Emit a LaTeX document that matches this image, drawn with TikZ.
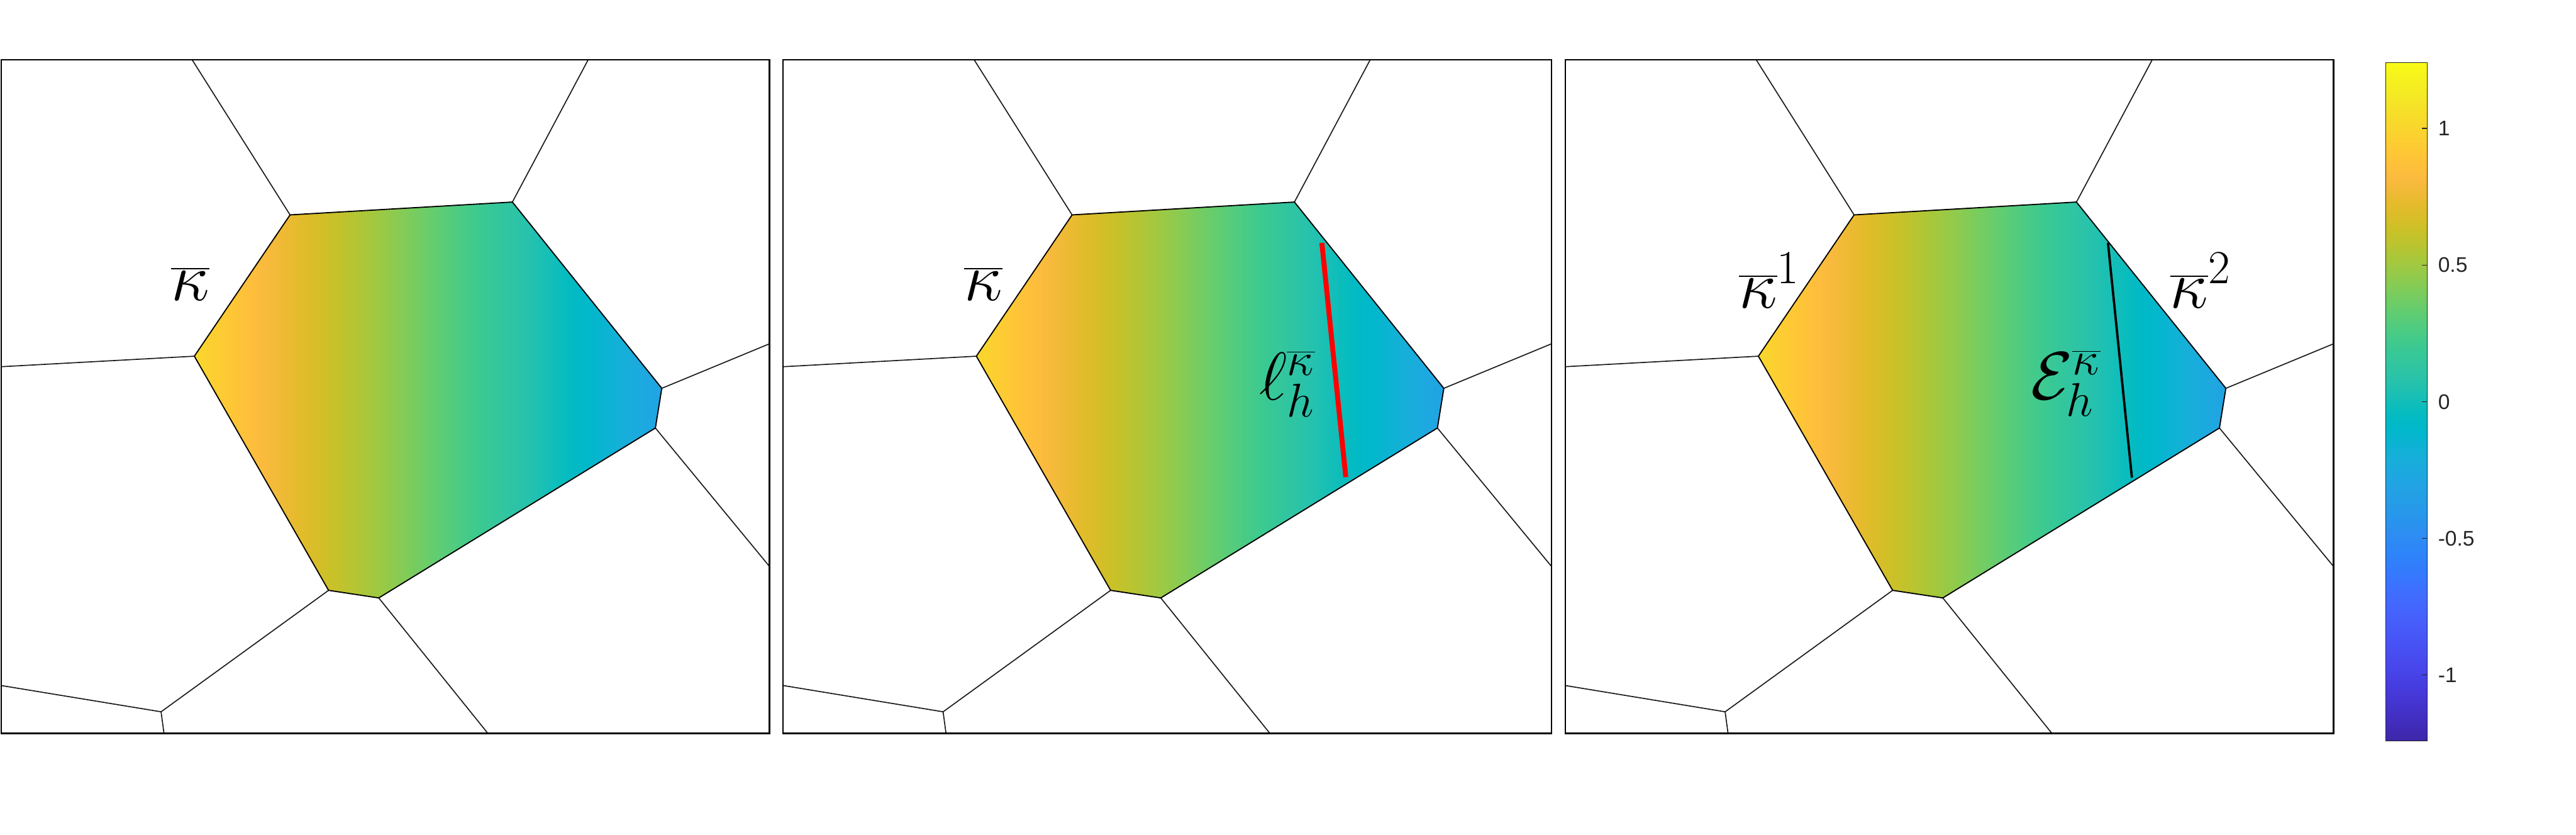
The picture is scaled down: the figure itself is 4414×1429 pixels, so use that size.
\RequirePackage{fix-cm}
\documentclass[tikz,border=0pt]{standalone}
\usepackage{fontspec}
\newfontfamily\tickfont{Liberation Sans}
% MATLAB parula(64)
\definecolor{pa1}{rgb}{0.2422,0.1504,0.6603}
\definecolor{pa2}{rgb}{0.2504,0.1650,0.7076}
\definecolor{pa3}{rgb}{0.2578,0.1818,0.7511}
\definecolor{pa4}{rgb}{0.2647,0.1978,0.7952}
\definecolor{pa5}{rgb}{0.2706,0.2147,0.8364}
\definecolor{pa6}{rgb}{0.2751,0.2342,0.8710}
\definecolor{pa7}{rgb}{0.2783,0.2559,0.8991}
\definecolor{pa8}{rgb}{0.2803,0.2782,0.9221}
\definecolor{pa9}{rgb}{0.2813,0.3006,0.9414}
\definecolor{pa10}{rgb}{0.2810,0.3228,0.9579}
\definecolor{pa11}{rgb}{0.2795,0.3447,0.9717}
\definecolor{pa12}{rgb}{0.2760,0.3667,0.9829}
\definecolor{pa13}{rgb}{0.2699,0.3892,0.9906}
\definecolor{pa14}{rgb}{0.2602,0.4123,0.9952}
\definecolor{pa15}{rgb}{0.2440,0.4358,0.9988}
\definecolor{pa16}{rgb}{0.2206,0.4603,0.9973}
\definecolor{pa17}{rgb}{0.1963,0.4847,0.9892}
\definecolor{pa18}{rgb}{0.1834,0.5074,0.9798}
\definecolor{pa19}{rgb}{0.1786,0.5289,0.9682}
\definecolor{pa20}{rgb}{0.1764,0.5499,0.9520}
\definecolor{pa21}{rgb}{0.1687,0.5703,0.9359}
\definecolor{pa22}{rgb}{0.1540,0.5902,0.9218}
\definecolor{pa23}{rgb}{0.1460,0.6091,0.9079}
\definecolor{pa24}{rgb}{0.1380,0.6276,0.8973}
\definecolor{pa25}{rgb}{0.1248,0.6459,0.8883}
\definecolor{pa26}{rgb}{0.1113,0.6635,0.8763}
\definecolor{pa27}{rgb}{0.0952,0.6798,0.8598}
\definecolor{pa28}{rgb}{0.0689,0.6948,0.8394}
\definecolor{pa29}{rgb}{0.0297,0.7082,0.8163}
\definecolor{pa30}{rgb}{0.0036,0.7203,0.7917}
\definecolor{pa31}{rgb}{0.0067,0.7312,0.7660}
\definecolor{pa32}{rgb}{0.0433,0.7411,0.7394}
\definecolor{pa33}{rgb}{0.0964,0.7500,0.7120}
\definecolor{pa34}{rgb}{0.1408,0.7584,0.6842}
\definecolor{pa35}{rgb}{0.1717,0.7670,0.6554}
\definecolor{pa36}{rgb}{0.1938,0.7758,0.6251}
\definecolor{pa37}{rgb}{0.2161,0.7843,0.5923}
\definecolor{pa38}{rgb}{0.2470,0.7918,0.5567}
\definecolor{pa39}{rgb}{0.2906,0.7973,0.5188}
\definecolor{pa40}{rgb}{0.3406,0.8008,0.4789}
\definecolor{pa41}{rgb}{0.3909,0.8029,0.4354}
\definecolor{pa42}{rgb}{0.4456,0.8024,0.3909}
\definecolor{pa43}{rgb}{0.5044,0.7993,0.3480}
\definecolor{pa44}{rgb}{0.5616,0.7942,0.3045}
\definecolor{pa45}{rgb}{0.6174,0.7876,0.2612}
\definecolor{pa46}{rgb}{0.6720,0.7793,0.2227}
\definecolor{pa47}{rgb}{0.7242,0.7698,0.1910}
\definecolor{pa48}{rgb}{0.7738,0.7598,0.1646}
\definecolor{pa49}{rgb}{0.8203,0.7498,0.1535}
\definecolor{pa50}{rgb}{0.8634,0.7406,0.1596}
\definecolor{pa51}{rgb}{0.9035,0.7330,0.1774}
\definecolor{pa52}{rgb}{0.9393,0.7288,0.2100}
\definecolor{pa53}{rgb}{0.9728,0.7298,0.2394}
\definecolor{pa54}{rgb}{0.9956,0.7434,0.2371}
\definecolor{pa55}{rgb}{0.9970,0.7659,0.2199}
\definecolor{pa56}{rgb}{0.9952,0.7893,0.2028}
\definecolor{pa57}{rgb}{0.9892,0.8136,0.1885}
\definecolor{pa58}{rgb}{0.9786,0.8386,0.1766}
\definecolor{pa59}{rgb}{0.9676,0.8639,0.1643}
\definecolor{pa60}{rgb}{0.9610,0.8890,0.1537}
\definecolor{pa61}{rgb}{0.9597,0.9135,0.1423}
\definecolor{pa62}{rgb}{0.9628,0.9373,0.1265}
\definecolor{pa63}{rgb}{0.9691,0.9606,0.1064}
\definecolor{pa64}{rgb}{0.9769,0.9839,0.0805}
% vertical shading for the colour bar (bottom = pa1, top = pa64)
\def\pspecV{color(0bp)=(pa1)}
\foreach \k in {1,...,64}{%
  \pgfmathsetmacro\pos{25+50*(\k-1)/63}%
  \xdef\pspecV{\pspecV; color(\pos bp)=(pa\k)}}
\xdef\pspecV{\pspecV; color(100bp)=(pa64)}
\edef\tmpdecl{\noexpand\pgfdeclareverticalshading{parulaV}{100bp}{\pspecV}}
\tmpdecl
% horizontal shading for the cell (left f=0.908, right f=0.375)
\def\pspecH{color(0bp)=(pa60)}
\foreach \k in {60,59,...,23}{%
  \pgfmathsetmacro\pos{25+93.81*(0.908-(\k-1)/63)}%
  \xdef\pspecH{\pspecH; color(\pos bp)=(pa\k)}}
\xdef\pspecH{\pspecH; color(100bp)=(pa23)}
\edef\tmpdecl{\noexpand\pgfdeclarehorizontalshading{parulaH}{100bp}{\pspecH}}
\tmpdecl
\begin{document}
\begin{tikzpicture}[x=0.1mm,y=-0.1mm,
  cell/.style={draw=black!90, line width=0.18mm},
  poly/.style={draw=black, line width=0.2mm, line join=round},
  panelframe/.style={draw=black, line width=0.24mm},
  lab/.style={inner sep=0pt, font=\fontsize{33}{40}\selectfont},
  cbframe/.style={draw=black!85, line width=0.15mm},
  cbtick/.style={draw=black!85, line width=0.15mm},
  ticklab/.style={inner sep=0pt, anchor=west, text=black!85, font=\tickfont\fontsize{10.3}{12}\selectfont},
  redcut/.style={draw=red, line width=0.85mm},
  blackcut/.style={draw=black, line width=0.4mm},
  ]
\useasboundingbox (0,0) rectangle (4414,1429);

\foreach \dx in {0,1340,2680}{
  \begin{scope}[shift={(\dx,0)}]
    \coordinate (v1) at (497,368);
    \coordinate (v2) at (878,346);
    \coordinate (v3) at (1134,665);
    \coordinate (v4) at (1123,733);
    \coordinate (v5) at (649,1024);
    \coordinate (v6) at (563,1011);
    \coordinate (v7) at (333,610);
    \coordinate (j)  at (276,1219);
    \begin{scope}
      \clip (2,102) rectangle (1318.5,1256);
      \draw[cell] (v1) -- (329,102);
      \draw[cell] (v2) -- (1008,102);
      \draw[cell] (v3) -- (1330,584);
      \draw[cell] (v4) -- (1330,984);
      \draw[cell] (v5) -- (836,1256);
      \draw[cell] (v6) -- (j);
      \draw[cell] (j) -- (281,1256);
      \draw[cell] (j) -- (2,1174);
      \draw[cell] (v7) -- (2,628);
    \end{scope}
    \shadedraw[shading=parulaH, poly] (v1) -- (v2) -- (v3) -- (v4) -- (v5) -- (v6) -- (v7) -- cycle;
    \draw[panelframe] (2,102) rectangle (1318.5,1256);
  \end{scope}
}

% labels panel 1
\node[lab, anchor=base] (kA) at (326,515) {$\overline{\kappa}$};
% labels panel 2
\node[lab, anchor=base] (kB) at (1685,515) {$\overline{\kappa}$};
\coordinate (rA) at (2265,416);
\coordinate (rB) at (2306,817);
\draw[redcut] (rA) -- (rB);
\node[lab, anchor=base west] (ell) at (2157,685) {$\ell_h^{\overline{\kappa}}$};
% labels panel 3
\node[lab, anchor=base west] (kC1) at (2979,528) {$\overline{\kappa}^1$};
\node[lab, anchor=base west] (kC2) at (3718,528) {$\overline{\kappa}^2$};
\coordinate (bA) at (3612,416);
\coordinate (bB) at (3653,818);
\draw[blackcut] (bA) -- (bB);
\node[lab, anchor=base west] (calE) at (3479,684) {$\mathcal{E}_h^{\overline{\kappa}}$};

% colour bar
\shade[shading=parulaV] (4088,107) rectangle (4159,1269);
\draw[cbframe] (4088,107) rectangle (4159,1269);
\foreach \v/\t [count=\i] in {1/1, 0.5/0.5, 0/0, -0.5/-0.5, -1/-1}{
  \draw[cbtick] (4159,{688-468*\v}) -- ++(-9,0);
  \node[ticklab] (tick\i) at (4177,{688-468*\v}) {\t};
}
\end{tikzpicture}
\end{document}
